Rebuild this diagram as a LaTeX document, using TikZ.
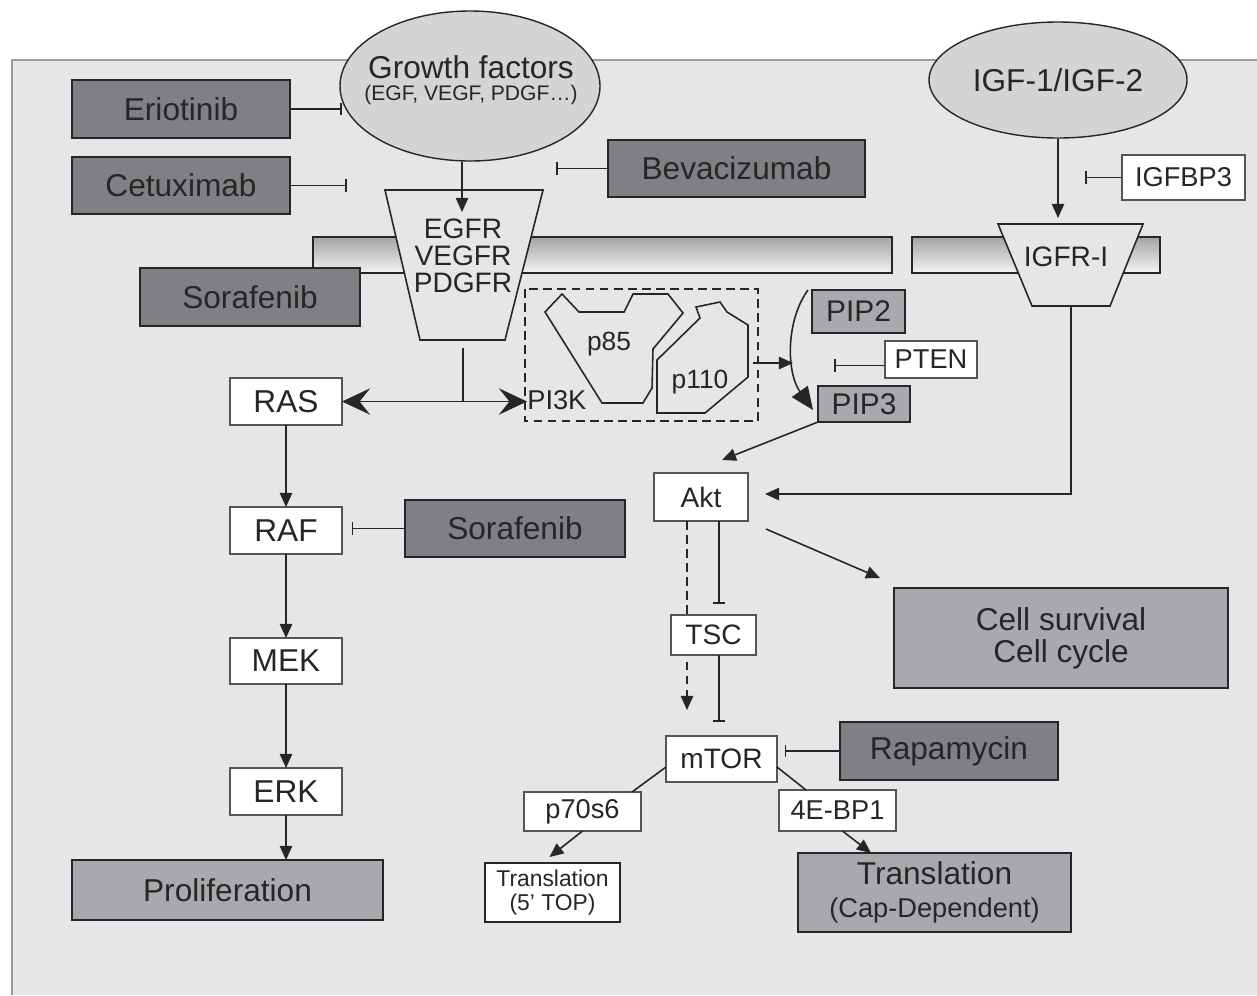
\documentclass[tikz,border=0pt]{standalone}
\usepackage{fontspec}
\setmainfont{Liberation Sans}
\usetikzlibrary{arrows.meta,shapes.geometric,calc}
\definecolor{panel}{HTML}{E6E6E8}
\definecolor{panelline}{HTML}{9C9C9E}
\definecolor{darkfill}{HTML}{808084}
\definecolor{midfill}{HTML}{A9A9AD}
\definecolor{ellfill}{HTML}{D4D4D7}
\definecolor{ink}{HTML}{262626}
\definecolor{wline}{HTML}{555555}
\definecolor{memtop}{HTML}{A4A4A7}
\definecolor{membot}{HTML}{F4F4F4}
\newcommand\fs[2]{\fontsize{#1}{#2}\selectfont}
\newcommand\bx[7]{\node[#6, minimum width={(#4-#2)*0.02cm}, minimum height={(#5-#3)*0.02cm}] (#1) at ({(#2+#4)/2},{(#3+#5)/2}) {#7};}
\tikzset{
 basebox/.style={rectangle, inner sep=0pt, outer sep=0pt, align=center, text=ink},
 darkbox/.style={basebox, draw=ink, line width=1.3pt, fill=darkfill, font=\fs{18}{21}},
 midbox/.style={basebox, draw=ink, line width=1.2pt, fill=midfill, font=\fs{18}{21}},
 wbox/.style={basebox, draw=wline, line width=1pt, fill=white, font=\fs{16}{19}},
 lbl/.style={inner sep=0pt, text=ink, align=center},
 link/.style={draw=ink, line width=0.9pt},
 arr/.style={link, -{Triangle[length=8pt,width=7pt]}},
 inh/.style={link, -{Bar[width=7pt,line width=0.9pt]}},
 bighead/.style={link, line width=1.1pt, -{Stealth[length=16pt,width=15pt,inset=6pt]}},
 membrane/.style={draw=ink, line width=1pt, top color=memtop, bottom color=membot},
 recep/.style={draw=ink, line width=0.9pt, fill=panel},
 subunit/.style={draw=ink, line width=0.9pt},
 growth/.style={ellipse, draw=ink, line width=0.8pt, fill=ellfill, inner sep=0pt, text=ink},
}
\begin{document}
\begin{tikzpicture}[x=0.02cm,y=-0.02cm]
\useasboundingbox (0,0) rectangle (1257,995);
\fill[white] (0,0) rectangle (1257,995);
\fill[panel] (12,60) rectangle (1257,995);
\draw[panelline, line width=1.4pt] (12,995) -- (12,60) -- (1257,60);

% membranes
\draw[membrane] (313,237) rectangle (892,273);
\draw[membrane] (912,237) rectangle (1160,273);

% receptors
\draw[recep] (385,190) -- (543,190) -- (505,340) -- (420,340) -- cycle;
\node[lbl, font=\fs{16}{15.4}] (egfr) at (463,256) {EGFR\\VEGFR\\PDGFR};
\draw[recep] (998,224) -- (1143,224) -- (1110,306) -- (1032,306) -- cycle;
\node[lbl, font=\fs{16}{19}] (igfr) at (1066,257) {IGFR-I};
\coordinate (egfrin) at (462,212);
\coordinate (egfrbot) at (463,348);
\coordinate (igfrin) at (1058,218);
\coordinate (igfrbot) at (1071,306);

% ligands
\node[growth, minimum width={260*0.02cm}, minimum height={150*0.02cm}] (gf) at (470,86) {};
\node[lbl, font=\fs{18}{21}] (gft) at (471,67) {Growth factors};
\node[lbl, font=\fs{12}{14}] (gfs) at (471,95) {(EGF, VEGF, PDGF\ldots)};
\node[growth, minimum width={258*0.02cm}, minimum height={116*0.02cm}, font=\fs{18}{21}] (igf) at (1058,80) {IGF-1/IGF-2};

% drug boxes
\bx{erio}{72}{80}{290}{138}{darkbox}{Eriotinib}
\bx{cetux}{72}{157}{290}{214}{darkbox}{Cetuximab}
\bx{bev}{608}{140}{865}{197}{darkbox}{Bevacizumab}
\bx{sora1}{140}{268}{360}{326}{darkbox}{Sorafenib}
\bx{sora2}{405}{500}{625}{557}{darkbox}{Sorafenib}
\bx{rapa}{840}{722}{1058}{780}{darkbox}{Rapamycin}

% MAPK
\bx{ras}{230}{378}{342}{425}{wbox, font=\fs{18}{21}}{RAS}
\bx{raf}{230}{507}{342}{554}{wbox, font=\fs{18}{21}}{RAF}
\bx{mek}{230}{638}{342}{684}{wbox, font=\fs{18}{21}}{MEK}
\bx{erk}{230}{768}{342}{815}{wbox, font=\fs{18}{21}}{ERK}
\bx{prolif}{72}{860}{383}{920}{midbox}{Proliferation}

% PI3K complex
\draw[link, dashed, dash pattern=on 5pt off 3pt] (525,289) rectangle (758,421);
\draw[subunit] (545,312) -- (562,294) -- (579,312) -- (624,312) -- (633,294) -- (668,294) -- (683,313) -- (653,349) -- (652,388) -- (643,403) -- (602,403) -- cycle;
\draw[subunit] (657,360) -- (700,318) -- (696,307) -- (720,302) -- (727,312) -- (748,325) -- (748,377) -- (705,413) -- (657,413) -- cycle;
\node[lbl, font=\fs{15}{18}] (p85) at (609,344) {p85};
\node[lbl, font=\fs{15}{18}] (p110) at (700,382) {p110};
\node[lbl, font=\fs{15.5}{18}, anchor=west] (pi3k) at (527,400) {PI3K};
\coordinate (p110r) at (753,363);

\bx{pip2}{812}{290}{905}{333}{midbox, font=\fs{17}{20}}{PIP2}
\bx{pten}{885}{341}{977}{378}{wbox, font=\fs{15.5}{18}}{PTEN}
\bx{pip3}{818}{386}{910}{422}{midbox, font=\fs{17}{20}}{PIP3}
\bx{igfbp}{1122}{155}{1245}{200}{wbox, font=\fs{15.5}{18}}{IGFBP3}

% Akt / mTOR
\bx{akt}{654}{473}{748}{521}{wbox}{Akt}
\coordinate (mtorin) at (687,710);
\draw[arr, dashed, dash pattern=on 5pt off 3pt] (akt.south -| mtorin) -- (mtorin);
\bx{tsc}{671}{615}{756}{655}{wbox}{TSC}
\bx{mtor}{666}{736}{777}{782}{wbox}{mTOR}
\bx{p70}{524}{792}{641}{831}{wbox, font=\fs{15.5}{18}}{p70s6}
\bx{ebp}{779}{790}{896}{831}{wbox, font=\fs{15.5}{18}}{4E-BP1}
\bx{tr1}{485}{863}{620}{922}{wbox, line width=1.1pt, draw=ink, font=\fs{13}{13.7}}{Translation\\(5' TOP)}
\bx{tr2}{798}{853}{1071}{932}{midbox}{Translation\\[-2pt]{\fs{15.5}{17}(Cap-Dependent)}}
\bx{cell}{894}{588}{1228}{688}{midbox, font=\fs{18}{18.2}}{Cell survival\\Cell cycle}

% connectors: inhibitors
\draw[inh] (erio.east) -- ++(52,0);
\draw[inh] (cetux.east) -- ++(57,0);
\draw[inh] (bev.west) -- ++(-52,0);
\draw[inh] (igfbp.west) -- ++(-37,0);
\draw[inh] ($(pten.west)+(0,6)$) -- ++(-51,0);
\draw[inh, shorten >=5.5pt] (sora2.west) -- (sora2.west -| raf.east);
\draw[inh, shorten >=4.5pt] (rapa.west) -- (rapa.west -| mtor.east);
\coordinate (tscbar) at (719,604);
\draw[inh] (akt.south -| tscbar) -- (tscbar);
\coordinate (mtorbar) at (719,722);
\draw[inh] (tsc.south -| mtorbar) -- (mtorbar);

% activations
\draw[arr] (gf.south -| egfrin) -- (egfrin);
\draw[arr] (igf.south) -- (igfrin);
\coordinate (split) at (egfrbot |- ras.east);
\draw[link, line width=1.1pt] (egfrbot) -- (split);
\draw[bighead] (split) -- (ras.east);
\draw[bighead] (split) -- (split -| pi3k.west);
\draw[arr] (ras.south) -- (raf.north);
\draw[arr] (raf.south) -- (mek.north);
\draw[arr] (mek.south) -- (erk.north);
\draw[arr] (erk.south) -- (prolif.north -| erk.south);
\draw[arr] (p110r) -- ++(40,0);
\draw[link, -{Triangle[length=13pt,width=11pt]}] ($(pip2.north west)+(-4,0)$) .. controls (786,320) and (786,372) .. ($(pip3.west)+(-5,6)$);
\draw[arr] (pip3.south west) -- ($(akt.north east)+(-26,-13)$);
\draw[arr] (igfrbot) |- ($(akt.east)+(17,-3)$);
\draw[arr] ($(akt.south east)+(18,8)$) -- ($(cell.north west)+(-14,-10)$);
\draw[link] ($(mtor.west)+(0,8)$) -- ($(p70.north east)+(-9,0)$);
\draw[link] ($(mtor.east)+(0,8)$) -- ($(ebp.north west)+(27,0)$);
\draw[arr] (p70.south) -- ($(tr1.north)+(-3,-6)$);
\draw[arr] ($(ebp.south)+(5,0)$) -- ($(tr2.north west)+(73,0)$);
\end{tikzpicture}
\end{document}
